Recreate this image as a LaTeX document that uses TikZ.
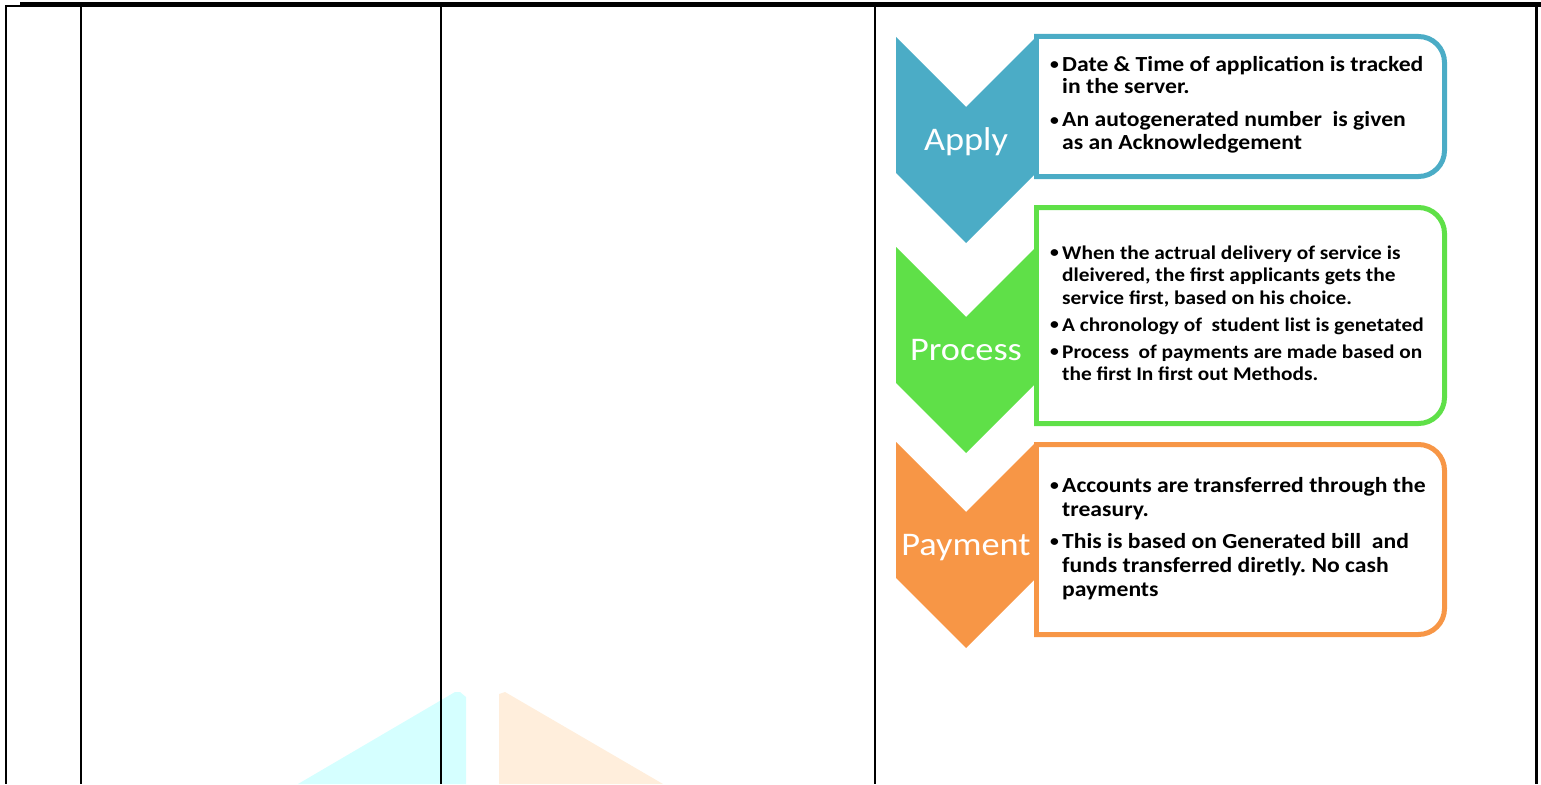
\documentclass[tikz,border=0pt]{standalone}
\usepackage{fontspec}
\setmainfont{Carlito}[FakeStretch=1.1]
\usepackage{tikz}
\frenchspacing

\definecolor{applyblue}{HTML}{4BACC6}
\definecolor{processgreen}{HTML}{5FE048}
\definecolor{paymentorange}{HTML}{F79646}
\definecolor{markcyan}{HTML}{D5FFFF}
\definecolor{markpeach}{HTML}{FFEEDC}

\newcommand{\bul}{\makebox[12pt][l]{\raisebox{1.5pt}{\fontsize{16}{16}\selectfont\textbullet}}}
\newcommand{\ind}{\hspace*{12pt}}

\begin{document}
\begin{tikzpicture}[x=1pt, y=-1pt,
    rule/.style={line width=2pt},
    boxline/.style={line width=5pt, line cap=rect, rounded corners=26pt},
    tag/.style={text=white, font=\fontsize{33}{33}\selectfont, anchor=base, inner sep=0pt},
    notes/.style={align=left, anchor=north west, inner sep=0pt}]
  \useasboundingbox (0,0) rectangle (1541,784);

  \fill[markcyan] (298,784) -- (455,692) -- (460,692) -- (466,697) -- (466,784) -- cycle;
  \fill[markpeach] (499,784) -- (499,694) -- (505,692) -- (663,784) -- cycle;

  \draw[line width=5pt] (20,4.5) -- (1541,4.5);
  \draw[rule] (20,6) -- (6,6) -- (6,784);
  \foreach \x in {81,441,875}
    \draw[rule] (\x,7) -- (\x,784);
  \draw[line width=3pt] (1536.5,7) -- (1536.5,784);

  \foreach \top/\bot/\col in {36.5/176.5/applyblue, 207.5/423.5/processgreen, 444.5/634.5/paymentorange} {
    \draw[boxline, draw=\col] (1036.5,\top) -- (1444.5,\top) -- (1444.5,\bot) -- (1036.5,\bot);
    \draw[boxline, draw=\col] (1036.5,\top) -- (1036.5,\bot);
  }

  \foreach \y/\col/\name/\lab in {37/applyblue/ap/Apply, 247/processgreen/pr/Process, 442/paymentorange/py/Payment} {
    \fill[\col] (896,\y) -- (966,\y+70) -- (1036,\y) -- (1036,\y+136) -- (966,\y+206) -- (896,\y+136) -- cycle;
    \node[tag] (\name) at (966,\y+113) {\lab};
  }

  \node[notes, font=\bfseries\fontsize{21.5}{22.5}\selectfont] (apnotes) at (1050,56) {%
    \bul Date \& Time of application is tracked\\
    \ind in the server.\\[10.5pt]
    \bul An autogenerated number~ is given\\
    \ind as an Acknowledgement};
  \node[notes, font=\bfseries\fontsize{19.4}{22.5}\selectfont] (prnotes) at (1050,245.5) {%
    \bul When the actrual delivery of service is\\
    \ind dleivered, the first applicants gets the\\
    \ind service first, based on his choice.\\[4.5pt]
    \bul A chronology of~ student list is genetated\\[4.5pt]
    \bul Process~ of payments are made based on\\
    \ind the first In first out Methods.};
  \node[notes, font=\bfseries\fontsize{21.5}{24}\selectfont] (pynotes) at (1050,477) {%
    \bul Accounts are transferred through the\\
    \ind treasury.\\[8pt]
    \bul This is based on Generated bill~ and\\
    \ind funds transferred diretly. No cash\\
    \ind payments};
\end{tikzpicture}
\end{document}
